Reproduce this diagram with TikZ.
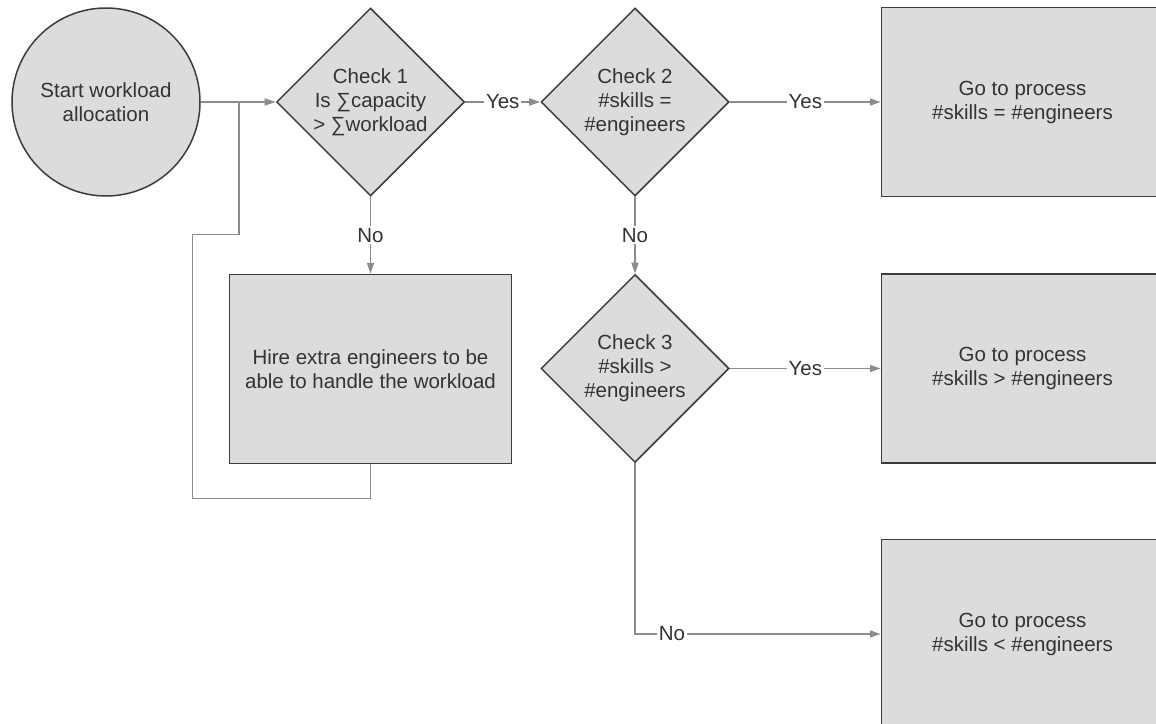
\documentclass[tikz,border=0pt]{standalone}
\usepackage{fontspec}
\setmainfont{Liberation Sans}
\usetikzlibrary{shapes.geometric,arrows.meta,positioning}
\definecolor{boxfill}{HTML}{DCDCDC}
\definecolor{boxline}{HTML}{3C3C3C}
\definecolor{flowline}{HTML}{8C8C8C}
\definecolor{labeltext}{HTML}{333333}

\begin{document}
\begin{tikzpicture}[x=1pt,y=-1pt,
    every node/.style={font=\fontsize{20.5}{24}\selectfont,text=labeltext},
    startnode/.style={circle,draw=boxline,fill=boxfill,line width=1.5pt,minimum size=188pt,inner sep=0pt,align=center},
    check/.style={diamond,draw=boxline,fill=boxfill,line width=1.5pt,minimum width=188pt,minimum height=188pt,inner sep=0pt,align=center},
    process/.style={rectangle,draw=boxline,fill=boxfill,line width=1.5pt,minimum width=282pt,minimum height=189pt,align=center},
    flow/.style={draw=flowline,line width=1.5pt},
    arrow/.style={flow,-{Triangle[length=11pt,width=7pt]}},
    answer/.style={fill=white,inner sep=2pt}]
    \useasboundingbox (0,0) rectangle (1156,723);
    \node[startnode] (start) at (106,102) {Start workload\\allocation};
    \node[check,right=75pt of start] (check1) {Check 1\\Is ∑capacity\\> ∑workload};
    \node[check,right=75pt of check1] (check2) {Check 2\\\#skills =\\\#engineers};
    \node[process,right=151pt of check2] (equal) {Go to process\\\#skills = \#engineers};
    \node[check,below=77pt of check2] (check3) {Check 3\\\#skills >\\\#engineers};
    \node[process,right=151pt of check3] (more) {Go to process\\\#skills > \#engineers};
    \node[process,below=75pt of more] (less) {Go to process\\\#skills < \#engineers};
    \node[process,below=77pt of check1] (hire) {Hire extra engineers to be\\able to handle the workload};
    \coordinate (join) at (239,102);
    \draw[arrow] (start) -- (check1);
    \draw[arrow] (check1) -- node[answer] {Yes} (check2);
    \draw[arrow] (check2) -- node[answer] {Yes} (equal);
    \draw[arrow] (check1) -- node[answer] {No} (hire);
    \draw[arrow] (check2) -- node[answer] {No} (check3);
    \draw[arrow] (check3) -- node[answer] {Yes} (more);
    \draw[arrow] (check3) |- node[answer,pos=0.575] {No} (less);
    \draw[flow] (hire.south) -- ++(0,34) -| ++(-178,-264) -| (join);
\end{tikzpicture}
\end{document}
